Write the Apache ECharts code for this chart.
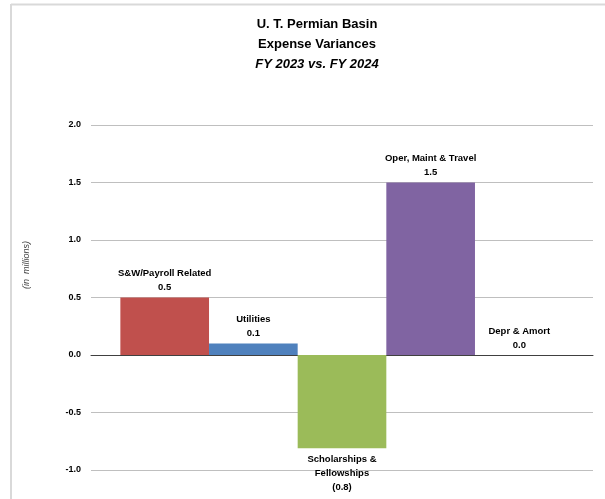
<!DOCTYPE html>
<html>
<head>
<meta charset="utf-8">
<script src="https://cdn.jsdelivr.net/npm/echarts@6/dist/echarts.min.js"></script>
<style>html,body{margin:0;padding:0;background:#fff;}#c{width:605px;height:499px;}</style>
</head>
<body>
<div id="c"></div>
<script>
const categories = ["S&W/Payroll Related", "Utilities", "Scholarships &\nFellowships", "Oper, Maint & Travel", "Depr & Amort"];
const values = [0.5, 0.1, -0.81, 1.5, 0.0];
const colors = ["#c0504d", "#4f81bd", "#9bbb59", "#8064a2", "#4bacc6"];
const yTicks = [-1.0, -0.5, 0.0, 0.5, 1.0, 1.5, 2.0];
const titleLines = ["U. T. Permian Basin", "Expense Variances", "FY 2023 vs. FY 2024"];
const yAxisName = "(in  millions)";

const FONT = "Liberation Sans";
function fmt(v) {
  return v < 0 ? "(" + Math.abs(v).toFixed(1) + ")" : v.toFixed(1);
}
const series = categories.map((name, i) => ({
  name: name,
  type: "bar",
  barGap: "0%",
  barCategoryGap: "11.7%",
  itemStyle: { color: colors[i] },
  data: [{
    value: values[i],
    label: {
      show: true,
      position: values[i] < 0 ? "bottom" : "top",
      distance: values[i] < 0 ? 4 : 3,
      formatter: () => name + "\n" + fmt(values[i]),
      fontFamily: FONT,
      fontWeight: "bold",
      fontSize: 9.5,
      lineHeight: 14,
      color: "#000",
      align: "center"
    }
  }]
}));

const chart = echarts.init(document.getElementById("c"), null, { renderer: "canvas" });
chart.setOption({
  animation: false,
  backgroundColor: "#fff",
  title: titleLines.map((t, i) => ({
    text: t,
    left: 312,
    top: 13 + i * 20,
    textAlign: "center",
    textStyle: {
      fontFamily: FONT,
      fontSize: 13,
      fontWeight: "bold",
      fontStyle: i === 2 ? "italic" : "normal",
      color: "#000"
    }
  })),
  graphic: [
    { type: "line", shape: { x1: 11, y1: 4.5, x2: 605, y2: 4.5 }, style: { stroke: "#d9d9d9", lineWidth: 2 } },
    { type: "line", shape: { x1: 11, y1: 4, x2: 11, y2: 499 }, style: { stroke: "#d9d9d9", lineWidth: 2 } },
    {
      type: "text",
      x: 26, y: 265,
      rotation: Math.PI / 2,
      style: {
        text: yAxisName,
        fontFamily: FONT,
        fontSize: 9,
        fontStyle: "italic",
        fill: "#404040",
        align: "center",
        verticalAlign: "middle"
      }
    }
  ],
  grid: { left: 91, right: 12, top: 125, bottom: 29, containLabel: false },
  xAxis: {
    type: "category",
    data: [""],
    axisLine: { show: true, onZero: true, lineStyle: { color: "#404040", width: 1 } },
    axisTick: { show: false },
    axisLabel: { show: false }
  },
  yAxis: {
    type: "value",
    min: yTicks[0],
    max: yTicks[yTicks.length - 1],
    interval: 0.5,
    axisLine: { show: false },
    axisTick: { show: false },
    axisLabel: {
      margin: 10,
      fontFamily: FONT,
      fontSize: 9,
      fontWeight: "bold",
      color: "#000",
      formatter: v => v.toFixed(1)
    },
    splitLine: { lineStyle: { color: "#bfbfbf", width: 1 } }
  },
  series: series
});
</script>
</body>
</html>
